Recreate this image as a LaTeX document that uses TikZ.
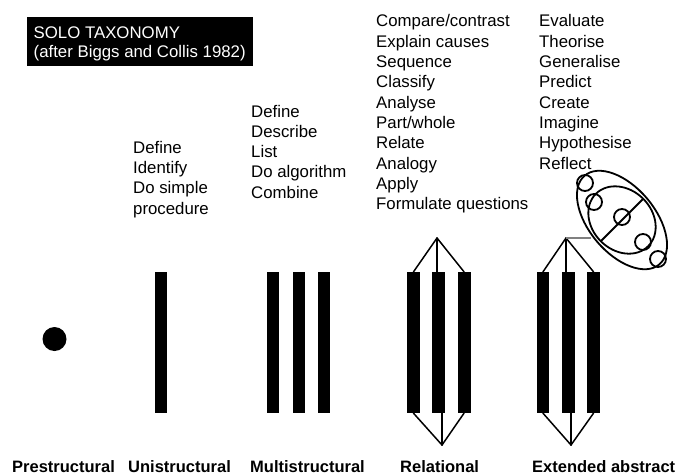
\documentclass[tikz,border=0pt]{standalone}
\usepackage{fontspec}
\setmainfont{Liberation Sans}
\begin{document}
\begin{tikzpicture}[x=1pt,y=-1pt,
  bar/.style={fill=black, inner sep=0pt, minimum width=12.5pt, minimum height=141pt},
  lst/.style={anchor=north west, inner sep=0pt, align=left, font=\fontsize{16.8}{20.3}\selectfont},
  lbl/.style={anchor=base west, inner sep=0pt, font=\bfseries\fontsize{16.5}{20}\selectfont},
  conn/.style={line width=1.5pt, line cap=round, line join=round},
  ell/.style={line width=1.8pt}]
\useasboundingbox (0,0) rectangle (679,475);
% title
\node[fill=black, minimum width=226pt, minimum height=49pt, anchor=north west, inner sep=0pt] (tbox) at (27,17) {};
\node[anchor=north west, inner sep=0pt, align=left, text=white, font=\fontsize{16.8}{19.2}\selectfont] (ttext) at (33.5,24.6) {\strut SOLO TAXONOMY\\(after Biggs and Collis 1982)};
% lists
\node[lst] (luni) at (133,138.8) {\strut Define\\Identify\\Do simple\\procedure};
\node[lst] (lmul) at (251,102.6) {\strut Define\\Describe\\List\\Do algorithm\\Combine};
\node[lst] (lrel) at (376,12.5) {\strut Compare/contrast\\Explain causes\\Sequence\\Classify\\Analyse\\Part/whole\\Relate\\Analogy\\Apply\\Formulate questions};
\node[lst] (lext) at (539,12.5) {\strut Evaluate\\Theorise\\Generalise\\Predict\\Create\\Imagine\\Hypothesise\\Reflect};
% prestructural
\node[circle, fill=black, minimum size=24pt, inner sep=0pt] (dot) at (54.5,339) {};
% unistructural
\node[bar, minimum width=12pt] (u1) at (161,342.5) {};
% multistructural
\node[bar, minimum width=12pt] (m1) at (273,342.5) {};
\node[bar, minimum width=12pt] (m2) at (298.5,342.5) {};
\node[bar, minimum width=12pt] (m3) at (323.5,342.5) {};
% relational
\node[bar, minimum width=13pt] (r1) at (413.5,342.5) {};
\node[bar, minimum width=13pt] (r2) at (438.5,342.5) {};
\node[bar, minimum width=13pt] (r3) at (464,342.5) {};
\coordinate (rt) at (437,238);
\coordinate (rb) at (442,445);
\draw[conn] (rt) -- (r1.north);
\draw[conn] (rt) -- (rt |- r2.north);
\draw[conn] (rt) -- (r3.north);
\draw[conn] (rb) -- (r1.south);
\draw[conn] (rb) -- (rb |- r2.south);
\draw[conn] (rb) -- (r3.south);
% extended abstract
\node[bar] (e1) at (543,342.5) {};
\node[bar] (e2) at (568.5,342.5) {};
\node[bar] (e3) at (593.5,342.5) {};
\coordinate (et) at (566,238);
\coordinate (eb) at (571,445);
\draw[conn] (et) -- (e1.north);
\draw[conn] (et) -- (et |- e2.north);
\draw[conn] (et) -- (e3.north);
\draw[conn] (eb) -- (e1.south);
\draw[conn] (eb) -- (eb |- e2.south);
\draw[conn] (eb) -- (e3.south);
% ellipses
\coordinate (E) at (622,220);
\draw[ell, rotate around={-50:(E)}] (E) ellipse [x radius=58, y radius=33];
\begin{scope}[shift={(E)}, rotate=-45]
  \draw[ell] (0,0) ellipse [x radius=37, y radius=30];
  \draw[ell] (0,-30) -- (0,30);
\end{scope}
\draw[line width=1.2pt, gray] (et) -- (591,238);
\foreach \p/\n in {{(585,183)}/c1, {(594,202)}/c2, {(622,217)}/c3, {(643,242)}/c4, {(658,259)}/c5}
  \draw[ell] \p circle[radius=8];
% bottom labels
\node[lbl] (bpre) at (12,472) {Prestructural};
\node[lbl] (buni) at (128,472) {Unistructural};
\node[lbl] (bmul) at (250,472) {Multistructural};
\node[lbl] (brel) at (400,472) {Relational};
\node[lbl] (bext) at (532,472) {Extended abstract};
\end{tikzpicture}
\end{document}
